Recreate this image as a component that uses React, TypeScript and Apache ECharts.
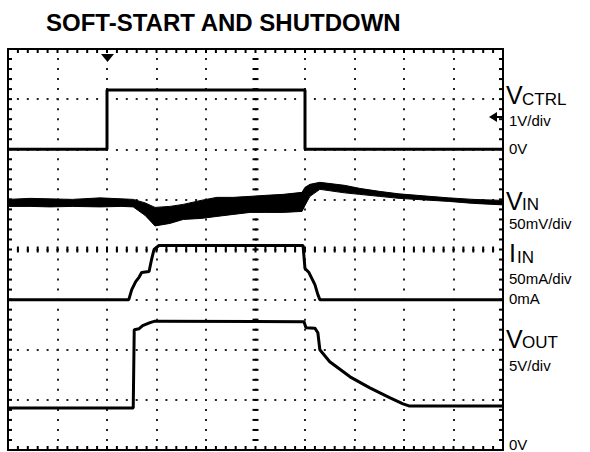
import React, { useEffect, useRef } from "react";
import * as echarts from "echarts";

// All coordinates are in scope divisions: x 0..10 (left->right), y 0..8 (bottom->top)
const TITLE = "SOFT-START AND SHUTDOWN";
const DIVS_X = 10;
const DIVS_Y = 8;
const SUBDIV = 5;

const vctrlX = [0, 2.0, 2.0, 6.0, 6.0, 10];
const vctrlY = [6.0, 6.0, 7.18, 7.18, 6.0, 6.0];

const vinX = [0, 0.45, 0.85, 1.3, 1.86, 2.3, 2.53, 2.77, 2.97, 3.27, 3.54, 3.9, 4.22, 4.55, 4.89, 5.2, 5.56, 5.94, 6.0, 6.1, 6.3, 6.8, 7.1, 7.5, 7.9, 8.4, 8.9, 9.4, 10];
const vinTop = [5.0, 5.02, 5.01, 5.0, 5.03, 5.01, 5.0, 4.93, 4.84, 4.86, 4.9, 4.98, 5.04, 5.04, 5.06, 5.08, 5.1, 5.14, 5.24, 5.3, 5.34, 5.28, 5.22, 5.16, 5.11, 5.07, 5.03, 5.0, 4.98];
const vinBottom = [4.86, 4.86, 4.85, 4.86, 4.85, 4.86, 4.85, 4.68, 4.47, 4.52, 4.6, 4.62, 4.66, 4.7, 4.74, 4.74, 4.74, 4.76, 4.88, 5.06, 5.2, 5.13, 5.1, 5.06, 5.02, 4.99, 4.96, 4.92, 4.89];

const iinX = [0, 2.44, 2.5, 2.58, 2.65, 2.7, 2.85, 2.9, 2.95, 3.05, 5.96, 6.0, 6.08, 6.2, 6.26, 6.3, 10];
const iinY = [3.0, 3.0, 3.2, 3.36, 3.45, 3.54, 3.56, 3.8, 4.0, 4.08, 4.08, 3.62, 3.54, 3.3, 3.1, 3.0, 3.0];

const voutX = [0, 2.53, 2.55, 2.65, 2.72, 2.87, 2.97, 5.98, 6.02, 6.2, 6.26, 6.3, 6.5, 6.91, 7.31, 7.72, 7.98, 8.1, 10];
const voutY = [0.84, 0.84, 2.4, 2.42, 2.48, 2.54, 2.57, 2.56, 2.44, 2.43, 2.34, 2.0, 1.76, 1.46, 1.24, 1.04, 0.92, 0.88, 0.88];

const pair = (xs: number[], ys: number[]) => xs.map((x, i) => [x, ys[i]]);

const FONT = "Arial, 'Liberation Sans', sans-serif";

export default function App() {
  const ref = useRef<HTMLDivElement>(null);
  useEffect(() => {
    if (!ref.current) return;
    const chart = echarts.init(ref.current, undefined, { renderer: "svg" });
    const black = "#000";
    const edgeAxis = (pos: string, isX: boolean) => ({
      type: "value",
      min: 0,
      max: isX ? DIVS_X : DIVS_Y,
      interval: 1,
      position: pos,
      axisLine: { show: true, onZero: false, lineStyle: { color: black, width: 2 } },
      axisTick: { show: false },
      minorTick: { show: false },
      axisLabel: { show: false },
      splitLine: { show: false },
    });
    const xMain: any = edgeAxis("bottom", true);
    xMain.splitLine = { show: true, lineStyle: { color: "#222", width: 2, type: [2, 8.025], dashOffset: 1 } };
    const yMain: any = edgeAxis("left", false);
    yMain.splitLine = { show: true, lineStyle: { color: "#222", width: 2, type: [2, 7.9], dashOffset: 1 } };

    const txt = (x: number, y: number, text: string, size: number, bold = false) => ({
      type: "text",
      x,
      y,
      style: { text, fill: black, font: `${bold ? "bold " : ""}${size}px ${FONT}`, textVerticalAlign: "middle", textAlign: "left" },
      z: 100,
    });

    const graticule = (params: any, api: any) => {
      const children: any[] = [];
      const seg = (x1: number, y1: number, x2: number, y2: number) =>
        children.push({ type: "line", shape: { x1, y1, x2, y2 }, style: { stroke: black, lineWidth: 2 } });
      for (let k = 0; k <= DIVS_X * SUBDIV; k++) {
        const x = k / SUBDIV;
        const [px, pb] = api.coord([x, 0]);
        const pt = api.coord([x, DIVS_Y])[1];
        const pc = api.coord([x, DIVS_Y / 2])[1];
        seg(px, pb, px, pb - 4);
        seg(px, pt, px, pt + 4);
        seg(px, pc - 3, px, pc + 3);
      }
      for (let k = 0; k <= DIVS_Y * SUBDIV; k++) {
        const y = k / SUBDIV;
        const [pl, py] = api.coord([0, y]);
        const pr = api.coord([DIVS_X, y])[0];
        const pc = api.coord([DIVS_X / 2, y])[0];
        seg(pl, py, pl + 4, py);
        seg(pr, py, pr - 4, py);
        seg(pc - 3, py, pc + 3, py);
      }
      return { type: "group", children };
    };

    chart.setOption({
      animation: false,
      backgroundColor: "#fff",
      grid: { left: 8, top: 49, width: 495, height: 401, containLabel: false },
      xAxis: [xMain, edgeAxis("top", true)],
      yAxis: [yMain, edgeAxis("right", false)],
      series: [
        {
          type: "custom",
          xAxisIndex: 0,
          yAxisIndex: 0,
          data: [[5, 4]],
          z: 5,
          silent: true,
          clip: false,
          renderItem: graticule,
        },
        {
          type: "line",
          xAxisIndex: 0,
          yAxisIndex: 0,
          data: pair(vctrlX, vctrlY),
          showSymbol: false,
          lineStyle: { color: black, width: 3 },
          z: 10,
        },
        {
          type: "custom",
          xAxisIndex: 0,
          yAxisIndex: 0,
          data: [[5, 5]],
          z: 10,
          renderItem: (params: any, api: any) => {
            const pts: number[][] = [];
            for (let i = 0; i < vinX.length; i++) pts.push(api.coord([vinX[i], vinTop[i]]));
            for (let i = vinX.length - 1; i >= 0; i--) pts.push(api.coord([vinX[i], vinBottom[i]]));
            return {
              type: "polygon",
              shape: { points: pts },
              style: { fill: black, stroke: black, lineWidth: 1, lineJoin: "round" },
            };
          },
        },
        {
          type: "line",
          xAxisIndex: 0,
          yAxisIndex: 0,
          data: pair(iinX, iinY),
          showSymbol: false,
          lineStyle: { color: black, width: 3 },
          z: 10,
        },
        {
          type: "line",
          xAxisIndex: 0,
          yAxisIndex: 0,
          data: pair(voutX, voutY),
          showSymbol: false,
          lineStyle: { color: black, width: 3 },
          z: 10,
        },
      ],
      graphic: [
        txt(46, 22, TITLE, 24, true),
        { type: "polygon", shape: { points: [[101, 54], [114, 54], [107.5, 62]] }, style: { fill: black }, z: 100 },
        { type: "polygon", shape: { points: [[489, 117], [497, 112], [497, 122]] }, style: { fill: black }, z: 100 },
        { type: "line", shape: { x1: 496, y1: 117, x2: 503, y2: 117 }, style: { stroke: black, lineWidth: 2 }, z: 100 },
        txt(506, 95, "V", 25),
        txt(522, 99, "CTRL", 17),
        txt(509, 120, "1V/div", 15),
        txt(509, 148, "0V", 15),
        txt(506, 201, "V", 25),
        txt(522, 204, "IN", 17),
        txt(509, 223, "50mV/div", 15),
        txt(509, 253, "I", 25),
        txt(517, 257.5, "IN", 17),
        txt(509, 278, "50mA/div", 15),
        txt(509, 298, "0mA", 15),
        txt(506, 339, "V", 25),
        txt(522, 342.5, "OUT", 17),
        txt(509, 365, "5V/div", 15),
        txt(509, 444, "0V", 15),
      ],
    });
    return () => chart.dispose();
  }, []);
  return <div ref={ref} style={{ position: "absolute", left: 0, top: 0, width: 590, height: 452 }} />;
}
